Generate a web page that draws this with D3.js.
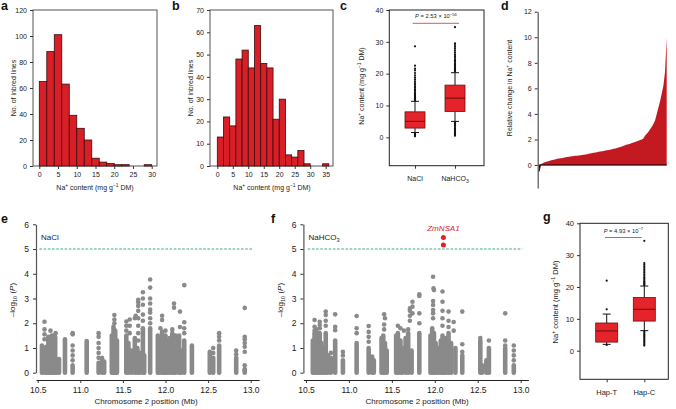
<!DOCTYPE html>
<html><head><meta charset="utf-8">
<script src="https://cdn.jsdelivr.net/npm/d3@7"></script>
<style>
body{margin:0;background:#fff;}
svg{display:block;font-family:"Liberation Sans",Arial,Helvetica,sans-serif;}
</style></head><body>
<svg id="chart" width="676" height="409"></svg>
<script>
// ---------- DATA ----------
// a, b: histograms (bin width 2, starting at 0)
const binWidth = 2;
const aCounts = [65, 88, 101, 63, 39, 29, 20, 6, 3, 2, 1, 1, 0, 0, 1];
const bCounts = [13, 22, 18, 48, 52, 44, 63, 46, 44, 21, 30, 5, 4, 7, 1, 0, 0, 1];
const aXTicks = [0, 5, 10, 15, 20, 25, 30];
const aYTicks = [0, 20, 40, 60, 80, 100, 120];
const bXTicks = [0, 5, 10, 15, 20, 25, 30, 35];
const bYTicks = [0, 10, 20, 30, 40, 50, 60, 70];

// c: box plots
const cGroups = ["NaCl", "NaHCO3"];
const cQ1 = [2.9, 8.1], cMed = [5.0, 12.3], cQ3 = [8.0, 16.4];
const cLo = [1.5, 5.0], cHi = [11.3, 20.3];
const cOutliers = [
  [11.6, 11.9, 12.2, 12.5, 12.8, 13.1, 13.5, 13.8, 14.2, 14.6, 15.0, 15.5, 16.0, 16.5, 17.0, 17.6, 18.2, 18.8, 19.5, 20.2, 21.0, 21.6, 22.5, 28.6, 1.2, 0.9, 0.6, 0.3],
  [20.6, 20.9, 21.2, 21.5, 21.8, 22.1, 22.5, 22.9, 23.3, 23.7, 24.1, 24.5, 25.0, 25.5, 26.0, 26.6, 27.2, 27.8, 28.4, 29.0, 29.5, 34.6, 4.7, 4.4, 4.0, 3.6, 3.2, 2.8, 2.4, 2.0, 1.6, 1.2, 0.8, 0.5]
];
const boxYTicks = [0, 10, 20, 30, 40];

// d: sorted relative change per line
const dValues = [-0.5, 0.05, 0.12, 0.2, 0.24, 0.28, 0.32, 0.35, 0.39, 0.42, 0.45, 0.48, 0.5, 0.52, 0.55, 0.57, 0.6, 0.62, 0.65, 0.67,
  0.69, 0.7, 0.72, 0.73, 0.75, 0.76, 0.78, 0.8, 0.83, 0.85, 0.88, 0.9, 0.93, 0.95, 0.98, 1.0, 1.03, 1.05, 1.08, 1.1,
  1.13, 1.15, 1.18, 1.2, 1.24, 1.27, 1.3, 1.33, 1.37, 1.4, 1.45, 1.5, 1.55, 1.6, 1.63, 1.67, 1.72, 1.77, 1.81, 1.85,
  1.9, 1.95, 2.0, 2.1, 2.3, 2.45, 2.6, 2.8, 3.0, 3.2, 3.5, 4.0, 4.5, 5.0, 5.6, 6.2, 7.3, 10.0];
const dYTicks = [0, 2, 4, 6, 8, 10, 12];

// e, f: association (Mb, -log10 P). Dense stacks: [Mb, top of continuous stack]; points: [Mb, value]
const manXTicks = [10.5, 11.0, 11.5, 12.0, 12.5, 13.0];
const manYTicks = [0, 1, 2, 3, 4, 5, 6];
const threshold = 5;
const eStacks = [[10.55,1.1],[10.575,0.9],[10.6,1.05],[10.625,1.45],[10.645,1.2],[10.665,1.5],[10.685,1.35],[10.705,1.45],[10.725,0.3],[10.75,0.55],[10.82,1.35],[10.91,0.3],[11.075,1.28],[11.215,0.4],[11.255,0.6],[11.28,0.45],[11.37,1.5],[11.39,1.86],[11.41,1.7],[11.43,1.3],[11.54,1.5],[11.565,1.2],[11.6,0.9],[11.64,1.4],[11.67,1.0],[11.7,0.8],[11.735,1.8],[11.75,0.7],[11.82,1.8],[11.91,1.5],[11.93,1.4],[11.96,1.66],[11.98,1.2],[12.0,1.5],[12.02,1.3],[12.05,1.4],[12.08,1.6],[12.1,1.3],[12.12,1.5],[12.16,1.5],[12.185,0.9],[12.22,1.3],[12.31,1.1],[12.52,0.85],[12.56,0.6],[12.63,1.1],[12.83,0.6],[12.93,0.15]];
const ePoints = [[10.58,2.06],[10.58,1.75],[10.58,1.55],[10.58,1.35],[10.65,1.7],[10.69,1.5],[10.71,1.6],[10.91,1.6],[10.91,1.55],[10.91,1.1],[10.91,0.9],[10.91,0.7],[10.91,0.5],[11.215,1.6],[11.215,1.45],[11.215,1.2],[11.215,1.0],[11.215,0.8],[11.215,0.6],[11.4,2.33],[11.4,2.15],[11.4,2.0],[11.54,2.07],[11.54,1.9],[11.54,1.7],[11.58,2.15],[11.58,1.9],[11.58,1.6],[11.64,2.2],[11.65,2.3],[11.68,2.5],[11.68,2.95],[11.68,2.85],[11.68,2.7],[11.68,2.2],[11.68,1.9],[11.68,1.6],[11.68,1.3],[11.735,3.25],[11.735,3.0],[11.735,2.75],[11.735,2.35],[11.735,2.1],[11.82,3.77],[11.82,3.44],[11.82,3.0],[11.82,2.8],[11.82,2.55],[11.82,2.43],[11.82,2.2],[11.82,2.0],[11.96,2.3],[11.96,2.13],[11.94,1.8],[12.0,1.7],[12.1,2.8],[12.1,2.63],[12.08,1.75],[12.17,2.47],[12.17,1.85],[12.22,3.54],[12.22,2.04],[12.22,1.8],[12.22,1.6],[12.56,0.8],[12.56,1.0],[12.63,1.6],[12.63,1.45],[12.63,1.3],[12.83,0.9],[12.83,0.75],[12.93,2.62],[12.93,1.45],[12.93,1.35],[12.93,1.2],[12.93,1.05],[12.93,0.85],[12.93,0.3],[12.93,0.1]];
const fStacks = [[10.58,1.3],[10.6,1.6],[10.62,1.75],[10.64,1.4],[10.66,1.6],[10.68,1.2],[10.7,1.0],[10.73,1.6],[10.755,0.7],[10.79,0.6],[10.84,1.3],[10.93,0.5],[11.09,1.2],[11.23,1.0],[11.27,0.65],[11.29,0.5],[11.38,1.4],[11.4,1.5],[11.42,1.2],[11.44,0.9],[11.55,1.5],[11.57,1.6],[11.6,1.3],[11.62,1.0],[11.66,1.4],[11.69,1.6],[11.73,0.9],[11.82,1.6],[11.95,1.5],[11.97,1.8],[11.99,1.6],[12.01,1.2],[12.04,1.0],[12.07,1.3],[12.09,1.5],[12.11,1.2],[12.13,1.4],[12.16,1.6],[12.19,1.2],[12.24,1.0],[12.32,0.7],[12.53,1.3],[12.55,0.3],[12.6,0.5],[12.63,1.0],[12.82,1.0],[12.92,0.3]];
const fPoints = [[10.6,2.13],[10.6,1.86],[10.6,1.7],[10.66,2.06],[10.66,1.93],[10.66,1.8],[10.73,2.47],[10.73,2.33],[10.73,2.1],[10.73,1.9],[10.84,2.36],[10.84,1.86],[10.84,1.72],[10.79,0.8],[10.93,0.85],[10.93,0.7],[11.09,2.29],[11.09,1.8],[11.09,1.6],[11.23,1.89],[11.23,1.65],[11.23,1.45],[11.23,1.25],[11.41,2.36],[11.42,2.2],[11.41,1.95],[11.41,1.75],[11.57,1.9],[11.6,1.8],[11.64,1.7],[11.69,1.75],[11.71,2.6],[11.71,2.5],[11.71,2.3],[11.71,2.1],[11.74,2.87],[11.74,2.67],[11.74,2.4],[11.82,3.17],[11.82,3.1],[11.82,2.4],[11.82,2.0],[11.98,3.88],[11.985,3.41],[11.99,3.34],[11.98,2.9],[11.98,2.74],[11.98,2.53],[11.98,2.4],[11.98,2.2],[12.09,3.28],[12.09,2.87],[12.09,2.5],[12.09,2.2],[12.09,1.9],[12.16,2.47],[12.16,2.1],[12.16,1.85],[12.22,2.05],[12.22,1.7],[12.32,2.47],[12.32,1.15],[12.32,0.85],[12.53,1.4],[12.63,1.3],[12.82,2.4],[12.82,1.3],[12.82,1.1],[12.92,1.1],[12.92,0.9],[12.92,0.7],[12.92,0.5]];
const fSignificant = [[12.1, 5.47], [12.1, 5.16]];
const sigGene = "ZmNSA1";

// g: haplotype box plots
const gGroups = ["Hap-T", "Hap-C"];
const gQ1 = [2.7, 9.3], gMed = [6.2, 13.0], gQ3 = [8.7, 16.7];
const gLo = [2.0, 6.3], gHi = [11.5, 20.3];
const gOutliers = [
  [13.0, 22.0, 1.8],
  [20.6, 20.9, 21.2, 21.5, 21.8, 22.2, 22.6, 23.0, 23.5, 24.0, 24.5, 25.0, 25.5, 26.0, 26.5, 27.0, 27.5, 34.5, 6.0, 5.6, 5.2, 4.8, 4.4, 4.0, 3.6, 3.2, 2.8, 2.4, 2.0, 1.6]
];

// ---------- DRAWING ----------
const svg = d3.select("#chart");
const FONT = '"Liberation Sans", Arial, Helvetica, sans-serif';
const AX = "#333";
const TXT = "#1a1a1a";
const intFmt = d3.format("d");

function rich(parent, x, y, parts, fs, anchor, rotate, fill) {
  const g = parent.append("g").attr("transform", `translate(${x},${y})${rotate ? " rotate(-90)" : ""}`);
  const t = g.append("text").attr("text-anchor", anchor || "middle")
    .attr("font-size", fs).attr("fill", fill || TXT).attr("font-family", FONT);
  let shift = 0;
  parts.forEach(p => {
    const [txt, st] = typeof p === "string" ? [p, ""] : p;
    let target = 0, size = fs;
    if (st.includes("s")) { target = -fs * 0.38; size = fs * 0.7; }
    if (st.includes("b")) { target = fs * 0.28; size = fs * 0.7; }
    const ts = t.append("tspan").text(txt).attr("font-size", size);
    if (target !== shift) ts.attr("dy", target - shift);
    shift = target;
    if (st.includes("i")) ts.attr("font-style", "italic");
  });
  return t;
}
function styleAxis(g, fs) {
  g.attr("font-family", FONT).attr("font-size", fs);
  g.selectAll("text").attr("fill", TXT);
  g.selectAll("line,path").attr("stroke", AX);
}
function panelLetter(x, y, s) {
  svg.append("text").attr("x", x).attr("y", y).attr("font-family", FONT)
    .attr("font-weight", "bold").attr("font-size", 12.5).attr("fill", "#111").text(s);
}
const naLabel = ["Na", ["+", "s"], " content (mg g", ["\u22121", "s"], " DM)"];

// ----- histograms -----
function histogram(counts, xDomain, xRange, yDomain, frame, xTicks, yTicks, titleX) {
  const x = d3.scaleLinear().domain(xDomain).range(xRange);
  const y = d3.scaleLinear().domain(yDomain).range([frame.b, frame.t]);
  svg.append("rect").attr("x", frame.l).attr("y", frame.t).attr("width", frame.r - frame.l)
    .attr("height", frame.b - frame.t).attr("fill", "none").attr("stroke", "#555").attr("stroke-width", 1);
  svg.append("g").selectAll("rect").data(counts.map((c, i) => ({ c, i })).filter(d => d.c > 0))
    .join("rect")
    .attr("x", d => x(d.i * binWidth)).attr("width", d => x((d.i + 1) * binWidth) - x(d.i * binWidth))
    .attr("y", d => y(d.c)).attr("height", d => y(0) - y(d.c))
    .attr("fill", "#d81e26").attr("stroke", "#3a0c0c").attr("stroke-width", 0.8);
  const gx = svg.append("g").attr("transform", `translate(0,${frame.b})`)
    .call(d3.axisBottom(x).tickValues(xTicks).tickFormat(intFmt).tickSize(3).tickSizeOuter(0).tickPadding(3));
  gx.select(".domain").remove();
  styleAxis(gx, 7);
  const gy = svg.append("g").attr("transform", `translate(${frame.l},0)`)
    .call(d3.axisLeft(y).tickValues(yTicks).tickFormat(intFmt).tickSize(3).tickSizeOuter(0).tickPadding(3));
  gy.select(".domain").remove();
  styleAxis(gy, 7);
  rich(svg, titleX, 190, naLabel, 7, "middle");
  rich(svg, frame.l - 17, (frame.t + frame.b) / 2, ["No. of inbred lines"], 7, "middle", true);
}
histogram(aCounts, [0, 30], [39.3, 151.7], [0, 120], { l: 33, r: 157, t: 10, b: 166 }, aXTicks, aYTicks, 95);
histogram(bCounts, [0, 35], [217.3, 325.7], [0, 70], { l: 210, r: 333, t: 10, b: 166 }, bXTicks, bYTicks, 272);
panelLetter(1, 10, "a");
panelLetter(172, 10, "b");

// ----- box plots -----
function boxplot(groups, q1, med, q3, lo, hi, outliers, frame, xRange, yZero, labels, pText, pLine, boxW, fs) {
  const x = d3.scalePoint().domain(groups).range(xRange);
  const y = d3.scaleLinear().domain([0, 40]).range([yZero, frame.t]);
  svg.append("rect").attr("x", frame.l).attr("y", frame.t).attr("width", frame.r - frame.l)
    .attr("height", frame.b - frame.t).attr("fill", "none").attr("stroke", "#222").attr("stroke-width", 1);
  const gy = svg.append("g").attr("transform", `translate(${frame.l},0)`)
    .call(d3.axisLeft(y).tickValues(boxYTicks).tickFormat(intFmt).tickSize(3).tickSizeOuter(0).tickPadding(3));
  gy.select(".domain").remove();
  styleAxis(gy, fs);
  const gx = svg.append("g").attr("transform", `translate(0,${frame.b})`)
    .call(d3.axisBottom(x).tickSize(3).tickSizeOuter(0).tickFormat(""));
  gx.select(".domain").remove();
  styleAxis(gx, fs);
  groups.forEach((g, i) => {
    const cx = x(g);
    const G = svg.append("g");
    G.append("line").attr("x1", cx).attr("x2", cx).attr("y1", y(hi[i])).attr("y2", y(q3[i])).attr("stroke", "#111").attr("stroke-width", 1);
    G.append("line").attr("x1", cx).attr("x2", cx).attr("y1", y(q1[i])).attr("y2", y(lo[i])).attr("stroke", "#111").attr("stroke-width", 1);
    [hi[i], lo[i]].forEach(v => G.append("line").attr("x1", cx - 4).attr("x2", cx + 4).attr("y1", y(v)).attr("y2", y(v)).attr("stroke", "#111").attr("stroke-width", 1));
    G.selectAll("circle").data(outliers[i]).join("circle").attr("cx", cx).attr("cy", v => y(v)).attr("r", 1.1).attr("fill", "#111");
    G.append("rect").attr("x", cx - boxW / 2).attr("width", boxW).attr("y", y(q3[i])).attr("height", y(q1[i]) - y(q3[i]))
      .attr("fill", "#e5232b").attr("stroke", "#6a1010").attr("stroke-width", 0.8);
    G.append("line").attr("x1", cx - boxW / 2).attr("x2", cx + boxW / 2).attr("y1", y(med[i])).attr("y2", y(med[i]))
      .attr("stroke", "#6a0c0c").attr("stroke-width", 1);
    rich(svg, cx, labels.y, labels.parts[i], fs, "middle");
  });
  svg.append("line").attr("x1", pLine.x1).attr("x2", pLine.x2).attr("y1", pLine.y).attr("y2", pLine.y)
    .attr("stroke", "#e0575a").attr("stroke-width", 1);
  rich(svg, (pLine.x1 + pLine.x2) / 2, pLine.y - 5, pText, 5.8, "middle");
}
boxplot(cGroups, cQ1, cMed, cQ3, cLo, cHi, cOutliers, { l: 389.3, r: 484, t: 10, b: 165.7 }, [415, 455], 137.3,
  { y: 181, parts: [["NaCl"], ["NaHCO", ["3", "b"]]] },
  [["P", "i"], " = 2.53 \u00d7 10", ["\u221256", "s"]], { x1: 412.7, x2: 459, y: 23.3 }, 20, 7);
rich(svg, 364, 86, naLabel, 7, "middle", true);
panelLetter(340, 10, "c");

boxplot(gGroups, gQ1, gMed, gQ3, gLo, gHi, gOutliers, { l: 580, r: 668.3, t: 223.3, b: 379.3 }, [606.7, 644.3], 350.7,
  { y: 395, parts: [["Hap-T"], ["Hap-C"]] },
  [["P", "i"], " = 4.93 \u00d7 10", ["\u22127", "s"]], { x1: 605, x2: 641.7, y: 237.5 }, 22, 7.5);
rich(svg, 558, 302, naLabel, 7.5, "middle", true);
panelLetter(543, 221, "g");

// ----- d: relative change -----
const dX = d3.scaleLinear().domain([0, dValues.length - 1]).range([539, 666.7]);
const dY = d3.scaleLinear().domain([-1.8, 12]).range([188, 11.7]);
svg.append("path").datum(dValues)
  .attr("d", d3.area().x((d, i) => dX(i)).y0(dY(0)).y1(d => dY(Math.max(d, 0))))
  .attr("fill", "#c31a22");
svg.append("path").datum(dValues)
  .attr("d", d3.area().x((d, i) => dX(i)).y0(dY(0)).y1(d => dY(Math.min(d, 0))))
  .attr("fill", "#2a0808").attr("stroke", "#2a0808").attr("stroke-width", 0.8);
const dAxis = svg.append("g").attr("transform", "translate(537.7,0)")
  .call(d3.axisLeft(dY).tickValues(dYTicks).tickFormat(intFmt).tickSize(3).tickSizeOuter(0).tickPadding(3));
styleAxis(dAxis, 7);
dAxis.select(".domain").attr("stroke-width", 1.2).attr("stroke", "#555");
rich(svg, 512, 88, ["Relative change in Na", ["+", "s"], " content"], 7, "middle", true);
panelLetter(501, 10, "d");

// ----- e, f: association plots -----
function manhattan(xDomain, xRange, stacks, points, sig, label, letter, letterX, titleX, ylabX) {
  const x = d3.scaleLinear().domain(xDomain).range(xRange);
  const y = d3.scaleLinear().domain([0, 6]).range([372.7, 224.3]);
  const grey = "#8a8a8a";
  svg.append("line").attr("x1", x(10.52)).attr("x2", x(13.02)).attr("y1", y(threshold)).attr("y2", y(threshold))
    .attr("stroke", "#3dab80").attr("stroke-width", 1.1).attr("stroke-dasharray", "2.6,1.6");
  svg.append("g").selectAll("line").data(stacks).join("line")
    .attr("x1", d => x(d[0])).attr("x2", d => x(d[0])).attr("y1", y(0)).attr("y2", d => y(d[1]))
    .attr("stroke", grey).attr("stroke-width", 4.6).attr("stroke-linecap", "round");
  svg.append("g").selectAll("circle").data(points).join("circle")
    .attr("cx", d => x(d[0])).attr("cy", d => y(d[1])).attr("r", 2.3).attr("fill", grey);
  if (sig) {
    svg.append("g").selectAll("circle").data(sig).join("circle")
      .attr("cx", d => x(d[0])).attr("cy", d => y(d[1])).attr("r", 2.5).attr("fill", "#e3202a");
    svg.append("text").attr("x", x(sig[0][0])).attr("y", 230.5).attr("text-anchor", "middle")
      .attr("font-family", FONT).attr("font-size", 8).attr("font-style", "italic").attr("fill", "#d9262c").text(sigGene);
  }
  const gy = svg.append("g").attr("transform", `translate(${xRange[0]},0)`)
    .call(d3.axisLeft(y).tickValues(manYTicks).tickFormat(intFmt).tickSize(3).tickSizeOuter(0).tickPadding(4));
  styleAxis(gy, 8.5);
  gy.select(".domain").attr("stroke-width", 1.2).attr("stroke", "#555");
  const gx = svg.append("g").attr("transform", "translate(0,380)")
    .call(d3.axisBottom(x).tickValues(manXTicks).tickFormat(d3.format(".1f")).tickSize(3).tickSizeOuter(0).tickPadding(4));
  styleAxis(gx, 8.5);
  gx.select(".domain").attr("stroke-width", 1.2).attr("stroke", "#222");
  rich(svg, titleX, 404, ["Chromosome 2 position (Mb)"], 8, "middle");
  rich(svg, ylabX, 300, ["\u2013log", ["10", "b"], " (", ["P", "i"], ")"], 8, "middle", true);
  rich(svg, xRange[0] + 5, 239.5, label, 8, "start");
  panelLetter(letterX, 223, letter);
}
manhattan([10.48, 13.1], [36, 259.2], eStacks, ePoints, null, ["NaCl"], "e", 1, 146, 15);
manhattan([10.47, 13.09], [303.4, 528.4], fStacks, fPoints, fSignificant, ["NaHCO", ["3", "b"]], "f", 271, 417, 283);
</script>
</body></html>
